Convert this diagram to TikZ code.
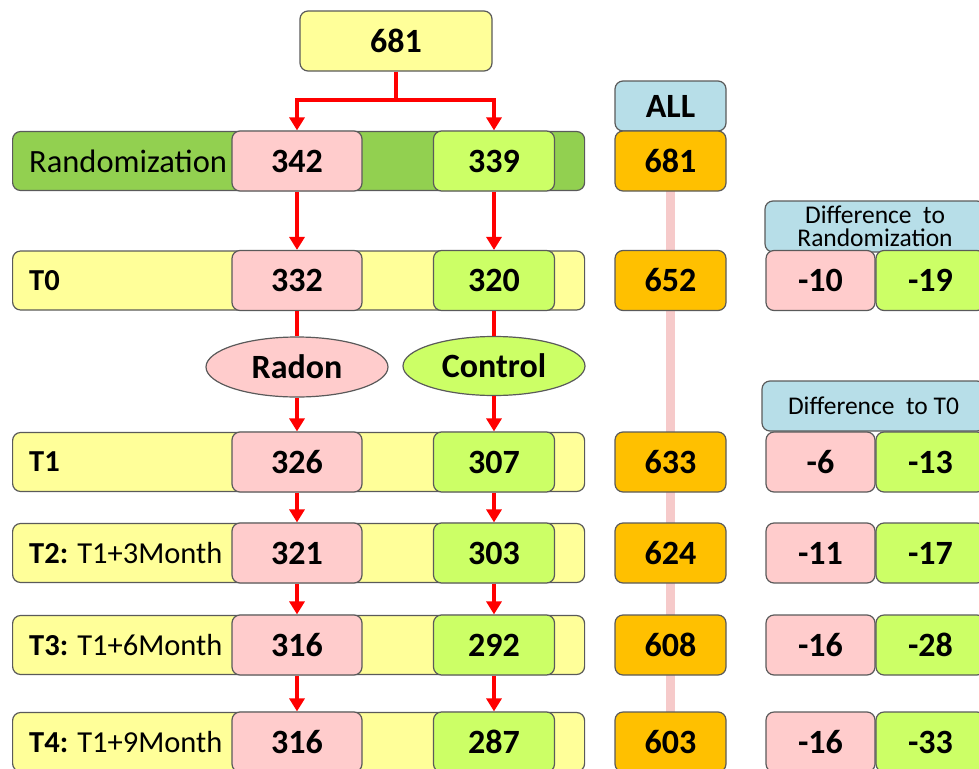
\documentclass[tikz,border=0pt]{standalone}
\usepackage{fontspec}
\setmainfont{Carlito}
\usetikzlibrary{arrows.meta,shapes.geometric}
\definecolor{ylw}{HTML}{FFFF99}
\definecolor{grn}{HTML}{92D050}
\definecolor{pnk}{HTML}{FFCCCC}
\definecolor{lgr}{HTML}{CCFF66}
\definecolor{org}{HTML}{FFC000}
\definecolor{hdr}{HTML}{B7DEE8}
\definecolor{brd}{HTML}{5A5A5A}
\definecolor{pline}{HTML}{F6CACA}
\newcommand\mybig{\fontsize{34}{38}\selectfont}
\newcommand\mylab{\fontsize{30.5}{36}\selectfont}
\newcommand\mysmall{\fontsize{25.5}{24}\selectfont}
\tikzset{
  box/.style={draw=brd, line width=1.2pt, rounded corners=8pt, inner sep=0pt, font=\mybig\bfseries},
  bar/.style={draw=brd, line width=1.2pt, rounded corners=8pt, inner sep=0pt, minimum width=572pt, minimum height=59pt, anchor=west},
  rbox/.style={box, fill=pnk, minimum width=130pt, minimum height=60pt},
  cbox/.style={box, fill=lgr, minimum width=121pt, minimum height=60pt},
  obox/.style={box, fill=org, minimum width=111pt, minimum height=60pt},
  dpbox/.style={box, fill=pnk, minimum width=109pt, minimum height=60pt},
  dgbox/.style={box, fill=lgr, minimum width=109pt, minimum height=60pt},
  hbox/.style={box, fill=hdr, font=\mysmall, align=center},
  lbl/.style={anchor=west, inner sep=0pt, font=\mylab},
  arr/.style={draw=red, line width=4pt, -{Triangle[length=13pt,width=15pt]}},
  rline/.style={draw=red, line width=4pt},
  ell/.style={ellipse, draw=brd, line width=1.2pt, minimum width=182pt, inner sep=0pt, font=\mybig\bfseries},
}
\begin{document}
\begin{tikzpicture}[x=1pt,y=-1pt]
\useasboundingbox (0,0) rectangle (979,768);
\clip (0,0) rectangle (979,768);

% top box
\node[box, fill=ylw, minimum width=192pt, minimum height=60pt] (top) at (396,41) {681};

% bars
\node[bar, fill=grn] (b0) at (12,161) {};
\node[bar, fill=ylw] (b1) at (12,280.5) {};
\node[bar, fill=ylw] (b2) at (12,462) {};
\node[bar, fill=ylw] (b3) at (12,553) {};
\node[bar, fill=ylw] (b4) at (12,645) {};
\node[bar, fill=ylw] (b5) at (12,742) {};

% labels
\node[lbl, font=\fontsize{32.5}{36}\selectfont] (l0) at (29,161) {Randomization};
\node[lbl] (l1) at (29,280.5) {\bfseries T0};
\node[lbl] (l2) at (29,462) {\bfseries T1};
\node[lbl] (l3) at (29,553) {\textbf{T2:} T1+3Month};
\node[lbl] (l4) at (29,645) {\textbf{T3:} T1+6Month};
\node[lbl] (l5) at (29,742) {\textbf{T4:} T1+9Month};

% radon boxes
\node[rbox] (r0) at (297,161) {342};
\node[rbox] (r1) at (297,280.5) {332};
\node[rbox] (r2) at (297,462) {326};
\node[rbox] (r3) at (297,553) {321};
\node[rbox] (r4) at (297,645) {316};
\node[rbox] (r5) at (297,742) {316};

% control boxes
\node[cbox] (c0) at (494,161) {339};
\node[cbox] (c1) at (494,280.5) {320};
\node[cbox] (c2) at (494,462) {307};
\node[cbox] (c3) at (494,553) {303};
\node[cbox] (c4) at (494,645) {292};
\node[cbox] (c5) at (494,742) {287};

% ellipses
\node[ell, fill=pnk, minimum height=60pt] (er) at (297,367) {Radon};
\node[ell, fill=lgr, minimum height=59pt] (ec) at (494,366) {Control};

% ALL column
\node[box, fill=hdr, minimum width=111pt, minimum height=50pt] (all) at (670.5,106) {ALL};
\coordinate (pl0) at (670.5,180);
\coordinate (pl1) at (670.5,725);
\draw[pline, line width=9pt] (pl0) -- (pl1);
\node[obox] (o0) at (670.5,161) {681};
\node[obox] (o1) at (670.5,280.5) {652};
\node[obox] (o2) at (670.5,462) {633};
\node[obox] (o3) at (670.5,553) {624};
\node[obox] (o4) at (670.5,645) {608};
\node[obox] (o5) at (670.5,742) {603};

% difference headers
\node[hbox, minimum width=220pt, minimum height=51pt] (h1) at (875,226.5) {Difference\ \ to\\[-1pt]Randomization};
\node[hbox, minimum width=223pt, minimum height=50pt] (h2) at (873.5,406) {Difference\ \ to T0};

% difference boxes
\node[dpbox] (dp1) at (820.5,280.5) {-10};
\node[dgbox] (dg1) at (930.5,280.5) {-19};
\node[dpbox] (dp2) at (820.5,462) {-6};
\node[dgbox] (dg2) at (930.5,462) {-13};
\node[dpbox] (dp3) at (820.5,553) {-11};
\node[dgbox] (dg3) at (930.5,553) {-17};
\node[dpbox] (dp4) at (820.5,645) {-16};
\node[dgbox] (dg4) at (930.5,645) {-28};
\node[dpbox] (dp5) at (820.5,742) {-16};
\node[dgbox] (dg5) at (930.5,742) {-33};

% connectors
\coordinate (split) at (396,100);
\draw[rline] (top.south) -- (split);
\draw[arr] (split) -| (r0.north);
\draw[arr] (split) -| (c0.north);
\draw[arr] (r0.south) -- (r1.north);
\draw[arr] (c0.south) -- (c1.north);
\draw[rline] (r1.south) -- (er.north);
\draw[rline] (c1.south) -- (ec.north);
\draw[arr] (er.south) -- (r2.north);
\draw[arr] (ec.south) -- (c2.north);
\draw[arr] (r2.south) -- (r3.north);
\draw[arr] (c2.south) -- (c3.north);
\draw[arr] (r3.south) -- (r4.north);
\draw[arr] (c3.south) -- (c4.north);
\draw[arr] (r4.south) -- (r5.north);
\draw[arr] (c4.south) -- (c5.north);
\end{tikzpicture}
\end{document}
